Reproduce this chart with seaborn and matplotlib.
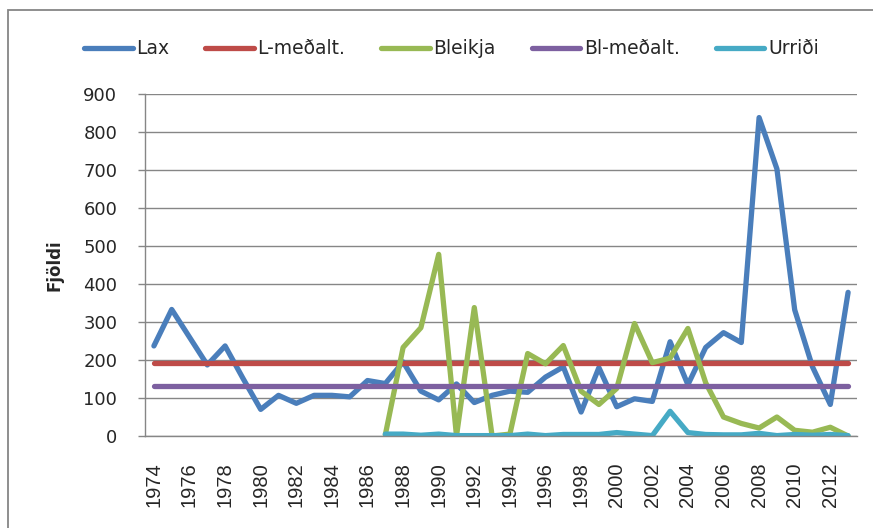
import numpy as np
import pandas as pd
import matplotlib
matplotlib.use("Agg")
import matplotlib.pyplot as plt
import seaborn as sns
from matplotlib.patches import Rectangle

years = list(range(1974, 2014))
lax = [237, 333, 260, 187, 237, 152, 70, 107, 86, 107,
       107, 103, 146, 138, 195, 118, 95, 137, 88, 107,
       118, 115, 155, 182, 63, 180, 77, 98, 91, 248,
       135, 233, 272, 246, 838, 703, 332, 182, 83, 378]
l_medalt = 192
bleikja_years = list(range(1987, 2014))
bleikja = [3, 233, 285, 478, 0, 338, 0, 5, 217, 190,
           238, 118, 83, 125, 296, 193, 205, 283, 140, 50,
           33, 21, 50, 15, 10, 23, 0]
bl_medalt = 131
urridi = [5, 5, 2, 5, 1, 1, 1, 1, 5, 1,
          4, 4, 4, 9, 5, 1, 65, 9, 4, 3,
          3, 7, 1, 4, 2, 4, 1]

series = ["Lax", "L-meðalt.", "Bleikja", "Bl-meðalt.", "Urriði"]
colors = ["#4A7EBB", "#BE4B48", "#98B954", "#7D60A0", "#46AAC5"]

df = pd.concat([
    pd.DataFrame({"ar": years, "fjoldi": lax, "rod": "Lax"}),
    pd.DataFrame({"ar": years, "fjoldi": [l_medalt] * len(years), "rod": "L-meðalt."}),
    pd.DataFrame({"ar": bleikja_years, "fjoldi": bleikja, "rod": "Bleikja"}),
    pd.DataFrame({"ar": years, "fjoldi": [bl_medalt] * len(years), "rod": "Bl-meðalt."}),
    pd.DataFrame({"ar": bleikja_years, "fjoldi": urridi, "rod": "Urriði"}),
], ignore_index=True)

sns.set_style("white")
plt.rcParams['font.family'] = ['DejaVu Sans']

fig = plt.figure(figsize=(8.73, 5.28), dpi=100)
ax = fig.add_axes([145 / 873, 92 / 528, 712 / 873, 342 / 528])

sns.lineplot(data=df, x="ar", y="fjoldi", hue="rod", hue_order=series,
             palette=colors, linewidth=3.8, ax=ax, solid_capstyle="round")

grey = "#868686"
ax.set_xlim(1973.5, 2013.5)
ax.set_ylim(0, 900)
ax.set_yticks(range(0, 901, 100))
ax.set_xticks(range(1974, 2013, 2))
ax.set_xticks(np.arange(1973.5, 2014, 1), minor=True)
ax.tick_params(axis="x", which="major", length=0, pad=19, labelsize=14.5, rotation=90)
ax.tick_params(axis="x", which="minor", length=6, width=1, color=grey, direction="out")
ax.tick_params(axis="y", length=5, width=1, color=grey, pad=15, labelsize=13, left=True)
for lbl in ax.get_xticklabels():
    lbl.set_family("Liberation Sans")
ax.yaxis.grid(True, color=grey, linewidth=1)
ax.set_axisbelow(True)
for s in ["top", "right"]:
    ax.spines[s].set_visible(False)
for s in ["left", "bottom"]:
    ax.spines[s].set_color(grey)
    ax.spines[s].set_linewidth(1)
ax.set_xlabel("")
ax.set_ylabel("Fjöldi", fontsize=12, fontweight="bold", labelpad=14)

handles, labels = ax.get_legend_handles_labels()
ax.get_legend().remove()
fig.legend(handles, labels, loc="center", bbox_to_anchor=(0.517, 0.908), ncol=5,
           frameon=False, fontsize=13.5, handlelength=2.6, handletextpad=0.2,
           columnspacing=1.9)

fig.patches.append(Rectangle((8 / 873, -0.1), 2, 1.1 - 10 / 528, transform=fig.transFigure,
                             fill=False, edgecolor=grey, linewidth=1.3))

fig.savefig("out.png", dpi=100)
